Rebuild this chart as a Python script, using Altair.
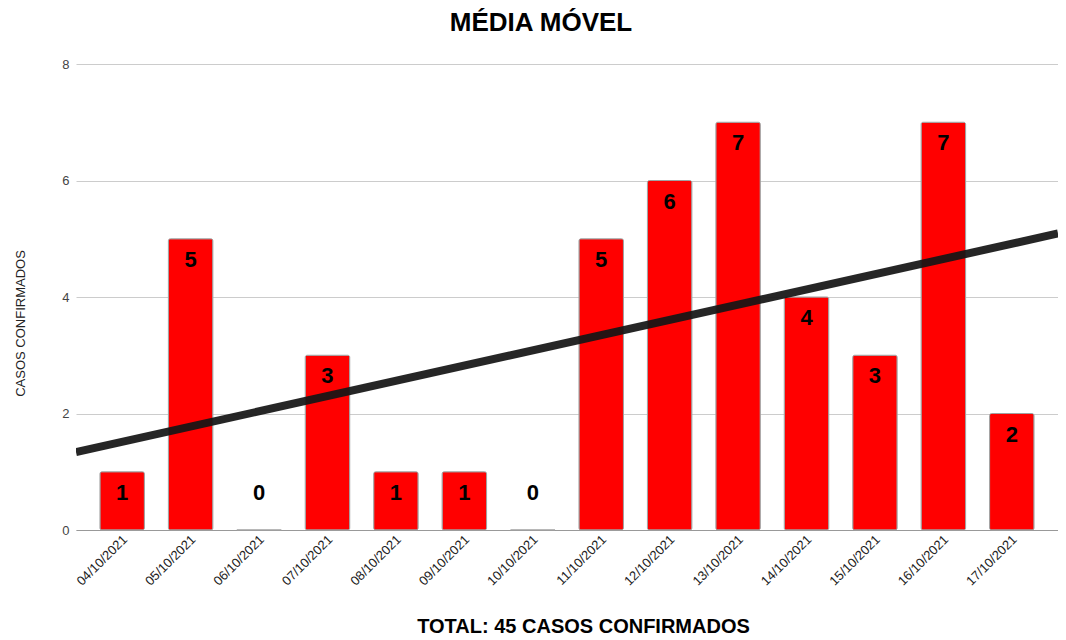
import altair as alt
import pandas as pd

dates = ["04/10/2021", "05/10/2021", "06/10/2021", "07/10/2021", "08/10/2021",
         "09/10/2021", "10/10/2021", "11/10/2021", "12/10/2021", "13/10/2021",
         "14/10/2021", "15/10/2021", "16/10/2021", "17/10/2021"]
cases = [1, 5, 0, 3, 1, 1, 0, 5, 6, 7, 4, 3, 7, 2]
y_ticks = [0, 2, 4, 6, 8]

df = pd.DataFrame({"date": dates, "cases": cases, "idx": list(range(1, len(dates) + 1))})

FONT = "Liberation Sans"
P_IN, P_OUT = 0.35, 0.35
half = P_OUT + (1 - P_IN) / 2
lo, hi = 1 - half, len(dates) + half

base = alt.Chart(df)

x_band = alt.X(
    "date:N", sort=None,
    scale=alt.Scale(paddingInner=P_IN, paddingOuter=P_OUT),
    title="TOTAL: 45 CASOS CONFIRMADOS",
    axis=alt.Axis(
        labelAngle=-45, labelAlign="right", labelBaseline="middle",
        labelFontSize=13, labelColor="#222222", labelFont=FONT, labelPadding=7,
        labelOffset=3,
        ticks=False, domainColor="#999999", domainWidth=1, grid=False,
        titleFont=FONT, titleFontSize=20, titleFontWeight="bold", titleColor="#000000",
        titleX=507, titleY=96, titleAlign="center", titleBaseline="middle",
    ),
)
y_axis = alt.Axis(
    values=y_ticks, format="d", labelFontSize=13, labelColor="#444444", labelFont=FONT,
    labelPadding=7, ticks=False, domain=False, gridColor="#cccccc", gridWidth=1,
    titleFont=FONT, titleFontSize=13, titleFontWeight="normal", titleColor="#222222",
    titleX=-56, titleY=259, titleAlign="center", titleBaseline="middle", titleAngle=-90,
)
y_scale = alt.Scale(domain=[0, 8], nice=False)

bars = base.mark_bar(color="#ff0000", stroke="#a0a0a0", strokeWidth=1, cornerRadius=2).encode(
    x=x_band,
    y=alt.Y("cases:Q", scale=y_scale, axis=y_axis, title="CASOS CONFIRMADOS"),
)

labels = base.transform_calculate(ly="max(datum.cases, 1)").mark_text(
    font=FONT, fontSize=22, fontWeight="bold", color="#000000",
    baseline="middle", dy=21,
).encode(
    x=alt.X("date:N", sort=None, title="TOTAL: 45 CASOS CONFIRMADOS"),
    y=alt.Y("ly:Q", title="CASOS CONFIRMADOS"),
    text="cases:Q",
)

trend = base.transform_regression("idx", "cases", extent=[lo, hi]).mark_line(
    color="#151515", strokeWidth=8, opacity=0.93, clip=True,
).encode(
    x=alt.X("idx:Q", scale=alt.Scale(domain=[lo, hi], nice=False, zero=False), axis=None),
    y=alt.Y("cases:Q", title="CASOS CONFIRMADOS"),
)

chart = alt.layer(alt.layer(bars, labels), trend).resolve_scale(x="independent").properties(
    width=982, height=466,
    autosize=alt.AutoSizeParams(type="none"),
    padding={"left": 68, "top": 56, "right": 0, "bottom": 110},
    title=alt.TitleParams(
        "MÉDIA MÓVEL", font=FONT, fontSize=26, fontWeight="bold", color="#000000",
        anchor="middle", dx=-26, offset=22,
    ),
    background="white",
).configure_view(stroke=None)

chart.save("out.html", embed_options={"renderer": "svg", "actions": False})
